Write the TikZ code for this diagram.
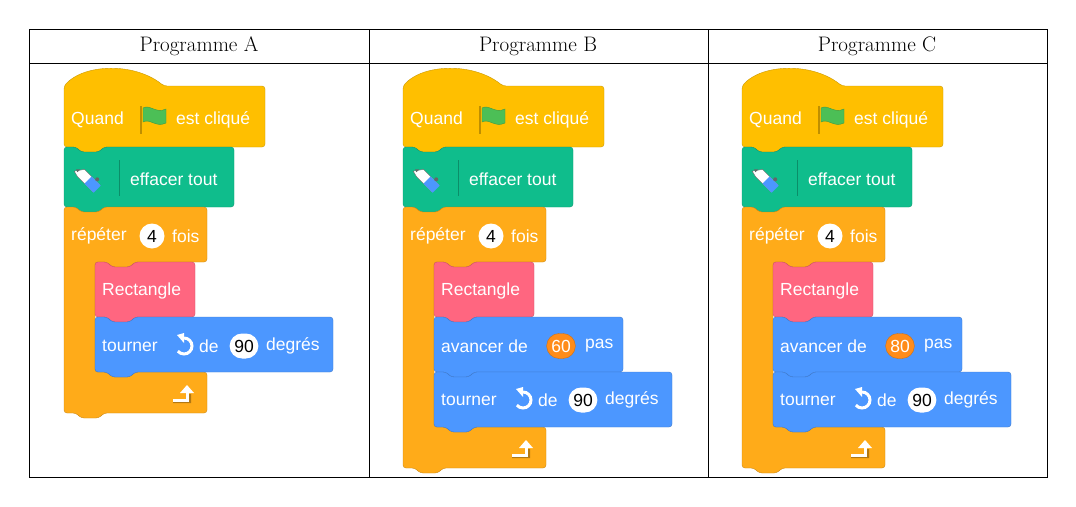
\documentclass[tikz,border=0pt]{standalone}
\usepackage{fontspec}
\newfontfamily\blockfont{Liberation Sans}
\usetikzlibrary{shapes.misc}

\definecolor{hatyellow}{HTML}{FFBF00}
\definecolor{pengreen}{HTML}{0FBD8C}
\definecolor{ctrlorange}{HTML}{FFAB19}
\definecolor{myblockpink}{HTML}{FF6680}
\definecolor{motionblue}{HTML}{4C97FF}
\definecolor{ovalorange}{HTML}{FF8C1A}
\definecolor{flaggreen}{HTML}{4CBF56}

\tikzset{
  btext/.style={text=white, font=\blockfont\fontsize{17.5}{20}\selectfont, inner sep=0pt, anchor=west},
  numoval/.style={rounded rectangle, fill=white, text=black, font=\blockfont\fontsize{17.5}{20}\selectfont,
                  minimum height=25pt, minimum width=25pt, inner xsep=3pt, inner ysep=0pt},
  orangeoval/.style={numoval, fill=ovalorange, text=white, draw=ovalorange!80!black},
  header/.style={font=\fontsize{21}{24}\selectfont}
}

% stack block: x y width height colour
\newcommand{\stackblock}[5]{%
\filldraw[fill=#5, draw=#5!80!black, rounded corners=3pt]
 (#1,#2) -- ++(12,0) -- ++(5,5) -- ++(18,0) -- ++(5,-5) -- ({#1+#3},#2) -- ({#1+#3},{#2+#4})
 -- ({#1+40},{#2+#4}) -- ++(-5,5) -- ++(-18,0) -- ++(-5,-5) -- (#1,{#2+#4}) -- cycle;}

% repeat block: x top innerbottom
\newcommand{\repeatblock}[3]{%
\filldraw[fill=ctrlorange, draw=ctrlorange!80!black, rounded corners=3pt]
 (#1,#2) -- ++(12,0) -- ++(5,5) -- ++(18,0) -- ++(5,-5) -- ({#1+143},#2) -- ({#1+143},{#2+55})
 -- ({#1+71},{#2+55}) -- ++(-5,5) -- ++(-18,0) -- ++(-5,-5) -- ({#1+31},{#2+55})
 -- ({#1+31},#3) -- ({#1+43},#3) -- ++(5,5) -- ++(18,0) -- ++(5,-5) -- ({#1+143},#3)
 -- ({#1+143},{#3+41}) -- ({#1+40},{#3+41}) -- ++(-5,5) -- ++(-18,0) -- ++(-5,-5) -- (#1,{#3+41}) -- cycle;
\begin{scope}[shift={({#1+121},{#3+22})}, yscale=-1]
\fill[ctrlorange!70!black] (-12,-9) -- (6,-9) -- (6,0) -- (4,0) -- (4,-7) -- (-12,-7) -- cycle;
\draw[white, line width=3pt] (-12,-6) -- (2,-6) -- (2,2);
\fill[white] (-5,1) -- (9,1) -- (2,9) -- cycle;
\end{scope}}

% hat + pen + repeat header, common to the three programmes
\newcommand{\startblocks}[1]{%
\filldraw[fill=hatyellow, draw=hatyellow!80!black, rounded corners=3pt]
 (#1,86) .. controls ({#1+20},64) and ({#1+70},62) .. ({#1+100},86) -- ({#1+201},86) -- ({#1+201},147)
 -- ({#1+40},147) -- ++(-5,5) -- ++(-18,0) -- ++(-5,-5) -- (#1,147) -- cycle;
\node[btext] (quand#1) at ({#1+7},120) {Quand};
\begin{scope}[shift={({#1+89},120)}, yscale=-1]
\fill[hatyellow!75!black] (-13,-14) rectangle (-11,14);
\fill[flaggreen, draw=flaggreen!80!black] (-10,12) .. controls (-3,16) and (3,6) .. (13,11)
 -- (13,-3) .. controls (3,-8) and (-3,2) .. (-10,-2) -- cycle;
\end{scope}
\node[btext] (clique#1) at ({#1+112},120) {est cliqué};
\stackblock{#1}{147}{170}{60}{pengreen}
\begin{scope}[shift={({#1+24},180)}, yscale=-1, rotate=45]
\fill[white, draw=black!60] (-16,-3.5) -- (-10,-5) -- (12,-5) -- (12,5) -- (-10,5) -- cycle;
\fill[motionblue] (0,-5) rectangle (13,5);
\fill[black!60] (-16,-1) -- (-13,-2) -- (-13,2) -- cycle;
\fill[black!60] (6,7) circle (2);
\end{scope}
\draw[pengreen!75!black, line width=1pt] ({#1+55},160) -- ({#1+55},196);
\node[btext] (effacer#1) at ({#1+66},179) {effacer tout};}

% turn block text: x y
\newcommand{\turntext}[2]{%
\node[btext] (tourner#1) at ({#1+7},#2) {tourner};
\begin{scope}[shift={({#1+90},#2)}, yscale=-1]
\draw[white, line width=3pt] (-1,8) arc (90:-140:8);
\fill[white] (-1,13) -- (-1,3) -- (-8,11) -- cycle;
\end{scope}
\node[btext] (de#1) at ({#1+104},#2) {de};
\node[numoval] (angle#1) at ({#1+149},#2) {90};
\node[btext] (degres#1) at ({#1+171},#2) {degrés};}

\begin{document}
\begin{tikzpicture}[x=1pt, y=-1pt]
\useasboundingbox (0,0) rectangle (1076,506);

% Table
\draw[thick] (29,29) rectangle (1047,477);
\draw[thick] (29,63) -- (1047,63);
\draw[thick] (369,29) -- (369,477);
\draw[thick] (708,29) -- (708,477);
\node[header] (titleA) at (199,46) {Programme A};
\node[header] (titleB) at (538,46) {Programme B};
\node[header] (titleC) at (877,46) {Programme C};

% Programme A
\startblocks{64}
\repeatblock{64}{207}{372}
\node[btext] (repeterA) at (71,236) {répéter};
\node[numoval] (nbA) at (152,236) {4};
\node[btext] (foisA) at (172,236) {fois};
\stackblock{95}{262}{100}{55}{myblockpink}
\node[btext] (rectA) at (102,291) {Rectangle};
\stackblock{95}{317}{238}{55}{motionblue}
\turntext{95}{346}

% Programmes B and C
\foreach \ox/\val in {403/60, 742/80}{
\startblocks{\ox}
\repeatblock{\ox}{207}{427}
\node[btext] (repeter\ox) at ({\ox+7},236) {répéter};
\node[numoval] (nb\ox) at ({\ox+88},236) {4};
\node[btext] (fois\ox) at ({\ox+108},236) {fois};
\stackblock{\ox+31}{262}{100}{55}{myblockpink}
\node[btext] (rect\ox) at ({\ox+38},291) {Rectangle};
\stackblock{\ox+31}{317}{189}{55}{motionblue}
\node[btext] (avancer\ox) at ({\ox+38},346) {avancer de};
\node[orangeoval] (pas\val) at ({\ox+158},346) {\val};
\node[btext] (pastext\ox) at ({\ox+182},346) {pas};
\stackblock{\ox+31}{372}{238}{55}{motionblue}
\turntext{\ox+31}{400}
}

\end{tikzpicture}
\end{document}
